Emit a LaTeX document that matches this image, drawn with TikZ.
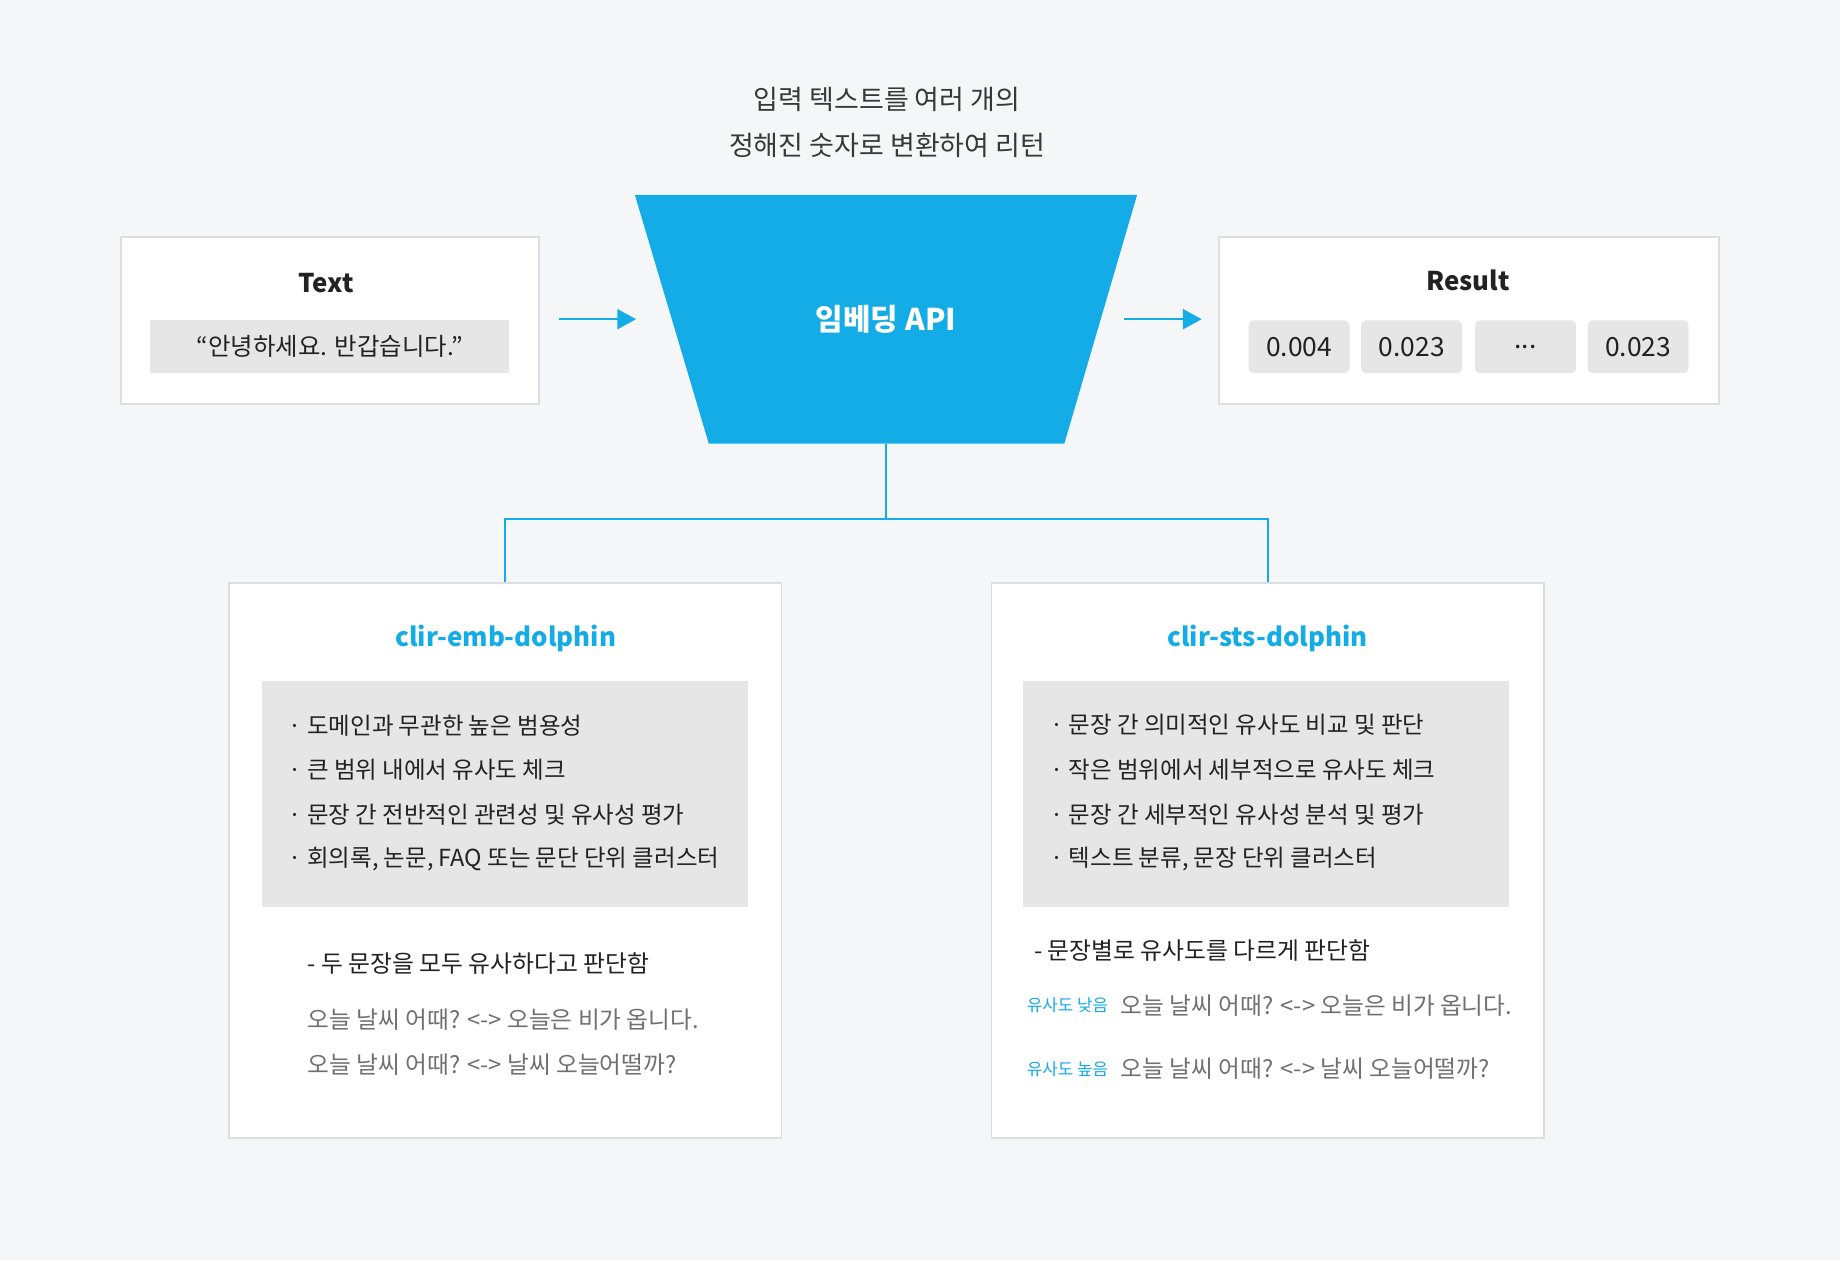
\documentclass[tikz,border=0pt]{standalone}
\usepackage{fontspec}
\setmainfont{Noto Sans CJK KR}
\usetikzlibrary{arrows.meta}
\definecolor{bg}{HTML}{F5F6F8}
\definecolor{brand}{HTML}{14ACE6}
\definecolor{frame}{HTML}{DEDEDE}
\definecolor{cellgray}{HTML}{E6E6E6}
\definecolor{ink}{HTML}{222222}
\definecolor{muted}{HTML}{707070}
\newcommand{\fs}[1]{\fontsize{#1}{#1}\selectfont}
\begin{document}
\begin{tikzpicture}[x=1pt,y=-1pt,
  panel/.style={draw=frame,line width=1.5pt,fill=white,inner sep=0pt},
  graybox/.style={fill=cellgray,inner sep=0pt},
  numcell/.style={fill=cellgray,rounded corners=4pt,inner sep=0pt,minimum width=86pt,minimum height=45pt,font=\fs{22.5},text=ink},
  boxtitle/.style={inner sep=0pt,font=\fs{22}\bfseries,text=ink},
  modeltitle/.style={inner sep=0pt,font=\fs{22}\bfseries,text=brand},
  bullet/.style={inner sep=0pt,anchor=west,font=\fs{20},text=ink},
  verdict/.style={inner sep=0pt,anchor=west,font=\fs{20.3},text=ink},
  example/.style={inner sep=0pt,anchor=west,font=\fs{20.2},text=muted},
  tag/.style={inner sep=0pt,anchor=west,font=\fs{14.3},text=brand},
  arr/.style={draw=brand,line width=2pt,-{Triangle[length=16pt,width=17pt]}},
  link/.style={draw=brand,line width=2pt}]
\useasboundingbox[fill=bg] (0,0) rectangle (1568,1074);

% caption
\node[inner sep=0pt,align=center,font=\fontsize{23}{39}\selectfont,text=ink!90] (caption) at (756,104)
  {입력 텍스트를 여러 개의\\정해진 숫자로 변환하여 리턴};

% API trapezoid
\fill[brand] (541,166) -- (969,166) -- (907,378) -- (604,378) -- cycle;
\node[inner sep=0pt,font=\fs{25.5}\bfseries,text=white] (api) at (755,272) {임베딩 API};
\coordinate (apibot) at (755,378);

% Text box
\node[panel,minimum width=356pt,minimum height=142pt] (tbox) at (281,273) {};
\node[boxtitle] (ttitle) at (278,241) {Text};
\node[graybox,minimum width=306pt,minimum height=45pt,font=\fs{20.8},text=ink] (quote) at (281,295.5) {“안녕하세요. 반갑습니다.”};

% Result box
\node[panel,minimum width=426pt,minimum height=142pt] (rbox) at (1252,273) {};
\node[boxtitle] (rtitle) at (1251,239) {Result};
\node[numcell] (n1) at (1107,295.5) {0.004};
\node[numcell] (n2) at (1203,295.5) {0.023};
\node[numcell] (n3) at (1300,295.5) {...};
\node[numcell] (n4) at (1396,295.5) {0.023};

% arrows
\coordinate (a1start) at (476,272);
\coordinate (a1end) at (542,272);
\coordinate (a2start) at (958,272);
\coordinate (a2end) at (1024,272);
\draw[arr] (a1start) -- (a1end);
\draw[arr] (a2start) -- (a2end);

% model boxes
\node[panel,minimum width=471pt,minimum height=473pt] (lbox) at (430.5,733.5) {};
\node[panel,minimum width=471pt,minimum height=473pt] (rbox2) at (1080.5,733.5) {};

% connector
\coordinate (split) at (755,442);
\draw[link] (apibot) -- (split);
\draw[link] (split) -| (lbox.north);
\draw[link] (split) -| (rbox2.north);

% left model
\node[modeltitle] (ltitle) at (431,544) {clir-emb-dolphin};
\node[graybox,minimum width=414pt,minimum height=193pt] (lgray) at (430,676.5) {};
\node[bullet] (lb1) at (246,618) {· 도메인과 무관한 높은 범용성};
\node[bullet] (lb2) at (246,656) {· 큰 범위 내에서 유사도 체크};
\node[bullet] (lb3) at (246,694) {· 문장 간 전반적인 관련성 및 유사성 평가};
\node[bullet] (lb4) at (246,732) {· 회의록, 논문, FAQ 또는 문단 단위 클러스터};
\node[verdict] (lv) at (262,821) {- 두 문장을 모두 유사하다고 판단함};
\node[example] (le1) at (262,869) {오늘 날씨 어때? <-> 오늘은 비가 옵니다.};
\node[example] (le2) at (262,907) {오늘 날씨 어때? <-> 날씨 오늘어떨까?};

% right model
\node[modeltitle] (rtitle2) at (1080,544) {clir-sts-dolphin};
\node[graybox,minimum width=414pt,minimum height=193pt] (rgray) at (1079,676.5) {};
\node[bullet] (rb1) at (895,618) {· 문장 간 의미적인 유사도 비교 및 판단};
\node[bullet] (rb2) at (895,656) {· 작은 범위에서 세부적으로 유사도 체크};
\node[bullet] (rb3) at (895,694) {· 문장 간 세부적인 유사성 분석 및 평가};
\node[bullet] (rb4) at (895,732) {· 텍스트 분류, 문장 단위 클러스터};
\node[verdict] (rv) at (881,810) {- 문장별로 유사도를 다르게 판단함};
\node[tag] (rt1) at (875,857) {유사도 낮음};
\node[example] (re1) at (955,857) {오늘 날씨 어때? <-> 오늘은 비가 옵니다.};
\node[tag] (rt2) at (875,911) {유사도 높음};
\node[example] (re2) at (955,911) {오늘 날씨 어때? <-> 날씨 오늘어떨까?};
\end{tikzpicture}
\end{document}
